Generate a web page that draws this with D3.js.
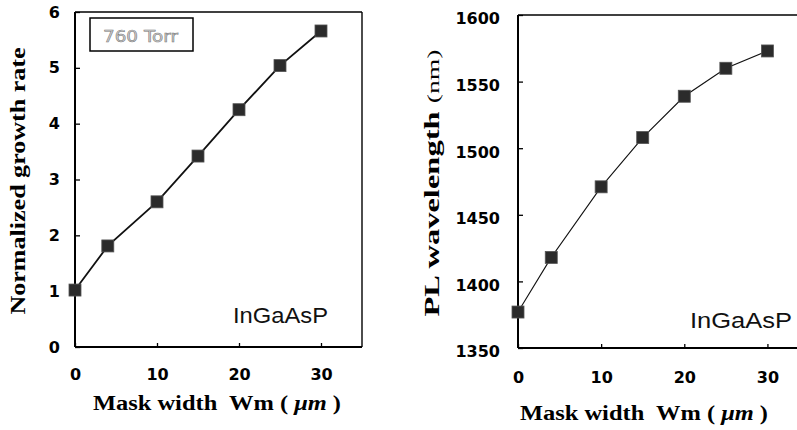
<!DOCTYPE html>
<html>
<head>
<meta charset="utf-8">
<script src="https://cdn.jsdelivr.net/npm/d3@7"></script>
<style>
  body { margin: 0; background: #fff; }
  svg { display: block; }
</style>
</head>
<body>
<svg width="797" height="430"></svg>
<script>
// datos
var maskWidth = [0, 4, 10, 15, 20, 25, 30];
var growthRate = [1.02, 1.81, 2.60, 3.42, 4.25, 5.04, 5.66];
var plWavelength = [1377, 1418, 1471, 1508, 1539, 1560, 1573];
var xTicks = [0, 10, 20, 30];
var growthTicks = [0, 1, 2, 3, 4, 5, 6];
var plTicks = [1350, 1400, 1450, 1500, 1550, 1600];

var svg = d3.select("svg");
svg.append("rect").attr("width", 797).attr("height", 430).attr("fill", "#fff");

var tickFont = "'DejaVu Sans', sans-serif";
var serif = "'Liberation Serif', 'Times New Roman', serif";

function panel(p) {
  var x = d3.scaleLinear().domain([0, 35]).range(p.xr);
  var y = d3.scaleLinear().domain(p.yd).range(p.yr);
  var g = svg.append("g");

  // ejes
  var ax = g.append("g")
    .attr("transform", "translate(0," + p.yr[0] + ")")
    .call(d3.axisBottom(x).tickValues(xTicks).tickFormat(d3.format("d"))
      .tickSizeInner(-4).tickSizeOuter(0).tickPadding(p.xPad));
  var ay = g.append("g")
    .attr("transform", "translate(" + p.xr[0] + ",0)")
    .call(d3.axisLeft(y).tickValues(p.yTicks).tickFormat(d3.format("d"))
      .tickSizeInner(-5).tickSizeOuter(0).tickPadding(p.yPad));

  [ax, ay].forEach(function (a) {
    a.select(".domain").remove();
    a.selectAll("line").attr("stroke", "#000").attr("stroke-width", 1.3);
    a.selectAll("text")
      .attr("font-family", tickFont)
      .attr("font-weight", "bold")
      .attr("font-size", "16px")
      .attr("fill", "#000");
  });
  ay.selectAll("text").attr("dy", p.yDy);

  // marco
  var frame = g.append("g").attr("fill", "none").attr("stroke", "#000");
  frame.append("line")
    .attr("x1", p.xr[0]).attr("x2", p.xr[0]).attr("y1", p.yr[1]).attr("y2", p.yr[0])
    .attr("stroke-width", 2);
  frame.append("line")
    .attr("x1", p.xr[0]).attr("x2", p.xr[1]).attr("y1", p.yr[0]).attr("y2", p.yr[0])
    .attr("stroke-width", 2);
  frame.append("line")
    .attr("x1", p.xr[0]).attr("x2", p.xr[1]).attr("y1", p.yr[1]).attr("y2", p.yr[1])
    .attr("stroke-width", 1.4);
  frame.append("line")
    .attr("x1", p.xr[1]).attr("x2", p.xr[1]).attr("y1", p.yr[1]).attr("y2", p.yr[0])
    .attr("stroke-width", 1.4);

  // linea y puntos
  var pts = maskWidth.map(function (d, i) { return [d, p.values[i]]; });
  g.append("path")
    .datum(pts)
    .attr("d", d3.line()
      .x(function (d) { return x(d[0]); })
      .y(function (d) { return y(d[1]); }))
    .attr("fill", "none")
    .attr("stroke", "#111")
    .attr("stroke-width", p.lineW);

  g.selectAll(".pt")
    .data(pts)
    .enter()
    .append("rect")
    .attr("class", "pt")
    .attr("x", function (d) { return x(d[0]) - 6; })
    .attr("y", function (d) { return y(d[1]) - 6; })
    .attr("width", 12)
    .attr("height", 12)
    .attr("fill", "#2b2b2b")
    .attr("stroke", "#555")
    .attr("stroke-width", 0.8);

  // etiqueta del material
  g.append("text")
    .attr("x", p.matX)
    .attr("y", p.matY)
    .attr("font-family", "'Liberation Sans', Arial, sans-serif")
    .attr("font-size", "22px")
    .attr("textLength", p.matLen)
    .attr("lengthAdjust", "spacingAndGlyphs")
    .attr("fill", "#111")
    .text("InGaAsP");

  // titulo eje x
  var xt = g.append("text")
    .attr("x", p.xtX)
    .attr("y", p.xtY)
    .style("white-space", "pre")
    .attr("font-family", serif)
    .attr("font-weight", "bold")
    .attr("font-size", "20px")
    .attr("textLength", 248)
    .attr("lengthAdjust", "spacingAndGlyphs")
    .attr("fill", "#000");
  xt.append("tspan").text("Mask width  Wm ( ");
  xt.append("tspan").attr("font-style", "italic").text("μm");
  xt.append("tspan").text(" )");

  return { x: x, y: y, g: g };
}

// grafica izquierda
var left = panel({
  xr: [75, 362], yd: [0, 6], yr: [347, 12], yTicks: growthTicks, values: growthRate,
  xPad: 22, yPad: 15, yDy: "0.32em", lineW: 1.8,
  matX: 233, matY: 323, matLen: 95, xtX: 93, xtY: 410
});

svg.append("text")
  .attr("transform", "translate(25,181) rotate(-90)")
  .attr("text-anchor", "middle")
  .attr("font-family", serif)
  .attr("font-weight", "bold")
  .attr("font-size", "20px")
  .attr("textLength", 267)
  .attr("lengthAdjust", "spacingAndGlyphs")
  .text("Normalized growth rate");

// recuadro 760 Torr
left.g.append("rect")
  .attr("x", 90).attr("y", 18).attr("width", 103).attr("height", 33)
  .attr("fill", "#fff").attr("stroke", "#000").attr("stroke-width", 1.5);
left.g.append("text")
  .attr("x", 103).attr("y", 42)
  .attr("font-family", "'DejaVu Sans', sans-serif")
  .attr("font-size", "15px")
  .attr("textLength", 75)
  .attr("lengthAdjust", "spacingAndGlyphs")
  .attr("fill", "#d0d0d0")
  .attr("stroke", "#777")
  .attr("stroke-width", 0.5)
  .text("760 Torr");

// grafica derecha
var right = panel({
  xr: [518, 809], yd: [1350, 1600], yr: [348, 15], yTicks: plTicks, values: plWavelength,
  xPad: 24, yPad: 18, yDy: "0.55em", lineW: 1.1,
  matX: 690, matY: 328, matLen: 102, xtX: 520, xtY: 420
});

var yt2 = svg.append("text")
  .attr("transform", "translate(439,183) rotate(-90)")
  .style("white-space", "pre")
  .attr("text-anchor", "middle")
  .attr("font-family", serif)
  .attr("font-size", "20px")
  .attr("textLength", 267)
  .attr("lengthAdjust", "spacingAndGlyphs");
yt2.append("tspan").attr("font-weight", "bold").text("PL wavelength ");
yt2.append("tspan").attr("font-size", "17px").text("(nm)");
</script>
</body>
</html>
